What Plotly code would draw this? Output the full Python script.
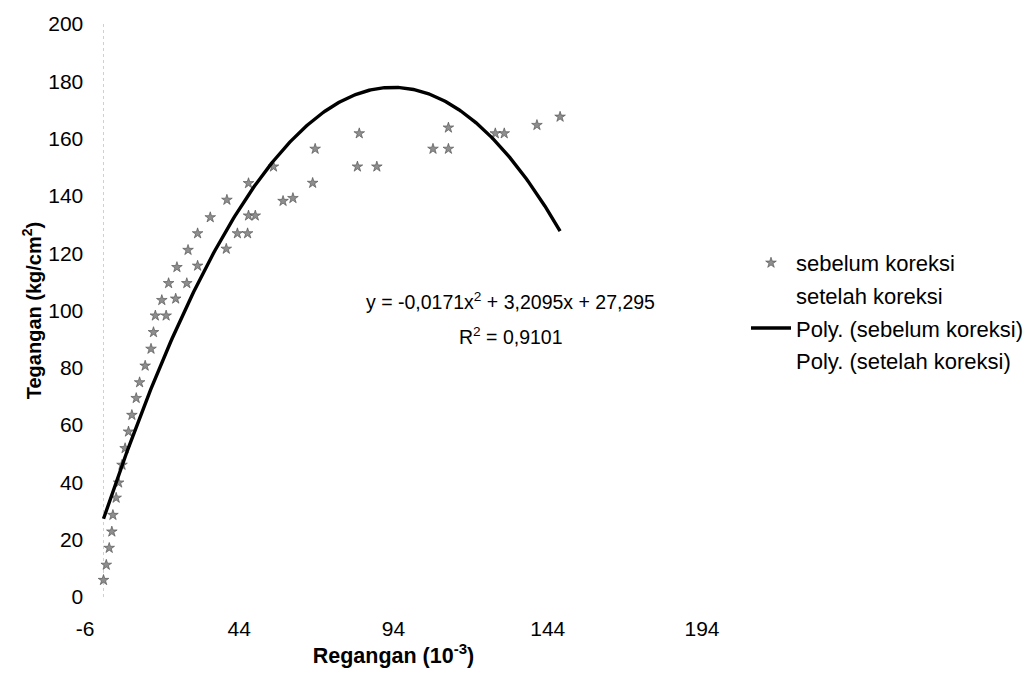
import numpy as np
import plotly.graph_objects as go

# Measured stress-strain points (before correction)
regangan = [0.0, 0.9, 1.85, 2.7, 3.05, 4.1, 4.9, 6.0, 7.0, 8.1, 9.2, 10.6, 11.7,
            13.5, 15.4, 16.2, 16.8, 20.3, 18.9, 23.4, 21.1, 27.0, 23.8, 30.5,
            27.4, 39.8, 30.5, 43.4, 46.7, 34.6, 47.0, 49.2, 40.0, 47.0, 55.1,
            58.2, 61.4, 67.8, 68.6, 82.3, 88.6, 82.9, 106.8, 111.8, 111.8,
            127.0, 129.9, 140.5, 148.0]
tegangan = [5.9, 11.2, 17.1, 22.8, 28.6, 34.6, 39.9, 46.1, 51.9, 57.7, 63.5, 69.4,
            74.9, 80.7, 86.6, 92.4, 98.2, 98.2, 103.6, 104.1, 109.5, 109.5,
            115.1, 115.6, 121.1, 121.5, 126.9, 126.9, 126.9, 132.5, 133.1,
            133.1, 138.6, 144.4, 150.2, 138.2, 139.2, 144.5, 156.4, 150.2,
            150.2, 161.8, 156.4, 156.4, 163.8, 161.8, 161.8, 164.7, 167.6]

# Second-order polynomial trendline coefficients
coef_a = -0.0171
coef_b = 3.2095
coef_c = 27.295
r_squared = 0.9101

x_ticks = [-6, 44, 94, 144, 194]
x_tick_text = ["-6", "44", "94", "144", "194"]
y_ticks = [0, 20, 40, 60, 80, 100, 120, 140, 160, 180, 200]

FONT = "Liberation Sans, Arial, sans-serif"

trend_x = np.linspace(min(regangan), max(regangan), 300)
trend_y = np.polyval([coef_a, coef_b, coef_c], trend_x)

fig = go.Figure()

fig.add_trace(go.Scatter(
    x=regangan, y=tegangan, mode="markers", name="sebelum koreksi",
    legendgroup="a",
    marker=dict(symbol="star", size=8, color="#8e8e8e",
                line=dict(color="#484848", width=0.6)),
))
fig.add_trace(go.Scatter(
    x=[None], y=[None], mode="markers", name="setelah koreksi",
    legendgroup="b",
    marker=dict(symbol="star", size=8, color="rgba(255,255,255,0)"),
))
fig.add_trace(go.Scatter(
    x=trend_x, y=trend_y, mode="lines", name="Poly. (sebelum koreksi)",
    legendgroup="c",
    line=dict(color="black", width=3.4),
))
fig.add_trace(go.Scatter(
    x=[None], y=[None], mode="lines", name="Poly. (setelah koreksi)",
    legendgroup="d",
    line=dict(color="rgba(255,255,255,0)", width=3),
))

# faint vertical axis at x = 0
fig.add_shape(type="line", x0=0, x1=0, y0=0, y1=200, xref="x", yref="y",
              line=dict(color="#d0d0d0", width=1, dash="dot"), layer="below")

fig.add_annotation(
    x=132, y=103.3, xref="x", yref="y", showarrow=False,
    text=f"y = {coef_a:.4f}x<sup>2</sup> + {coef_b:.4f}x + {coef_c:.3f}".replace(".", ","),
    font=dict(family=FONT, size=19.5, color="black"),
)
fig.add_annotation(
    x=132, y=91.1, xref="x", yref="y", showarrow=False,
    text=f"R<sup>2</sup> = {r_squared:.4f}".replace(".", ","),
    font=dict(family=FONT, size=19.5, color="black"),
)

fig.update_layout(
    width=1035, height=686,
    margin=dict(l=85, r=333, t=24, b=89, autoexpand=False),
    paper_bgcolor="white", plot_bgcolor="white",
    font=dict(family=FONT, size=21, color="black"),
    showlegend=True,
    legend=dict(
        xref="container", yref="container",
        x=746 / 1035, y=(686 - 242) / 686, xanchor="left", yanchor="top",
        font=dict(family=FONT, size=22, color="black"),
        itemwidth=40, tracegroupgap=1, bgcolor="rgba(0,0,0,0)",
    ),
    xaxis=dict(
        range=[-6, 194], tickvals=x_ticks, ticktext=x_tick_text,
        showgrid=False, zeroline=False, automargin=False,
        showline=False, ticks="outside", ticklen=13, tickcolor="rgba(0,0,0,0)",
        tickfont=dict(family=FONT, size=21),
        title=dict(text="<b>Regangan (10<sup>-3</sup>)</b>",
                   font=dict(family=FONT, size=21.5), standoff=1),
    ),
    yaxis=dict(
        range=[0, 200], tickvals=y_ticks, showgrid=False, zeroline=False,
        showline=False, anchor="free", position=(0 + 6) / 200, automargin=False,
        ticks="outside", ticklen=16, tickcolor="rgba(0,0,0,0)",
        tickfont=dict(family=FONT, size=21),
        title=dict(text="<b>Tegangan (kg/cm<sup>2</sup>)</b>",
                   font=dict(family=FONT, size=20), standoff=0),
    ),
)

fig.write_html("out.html")
